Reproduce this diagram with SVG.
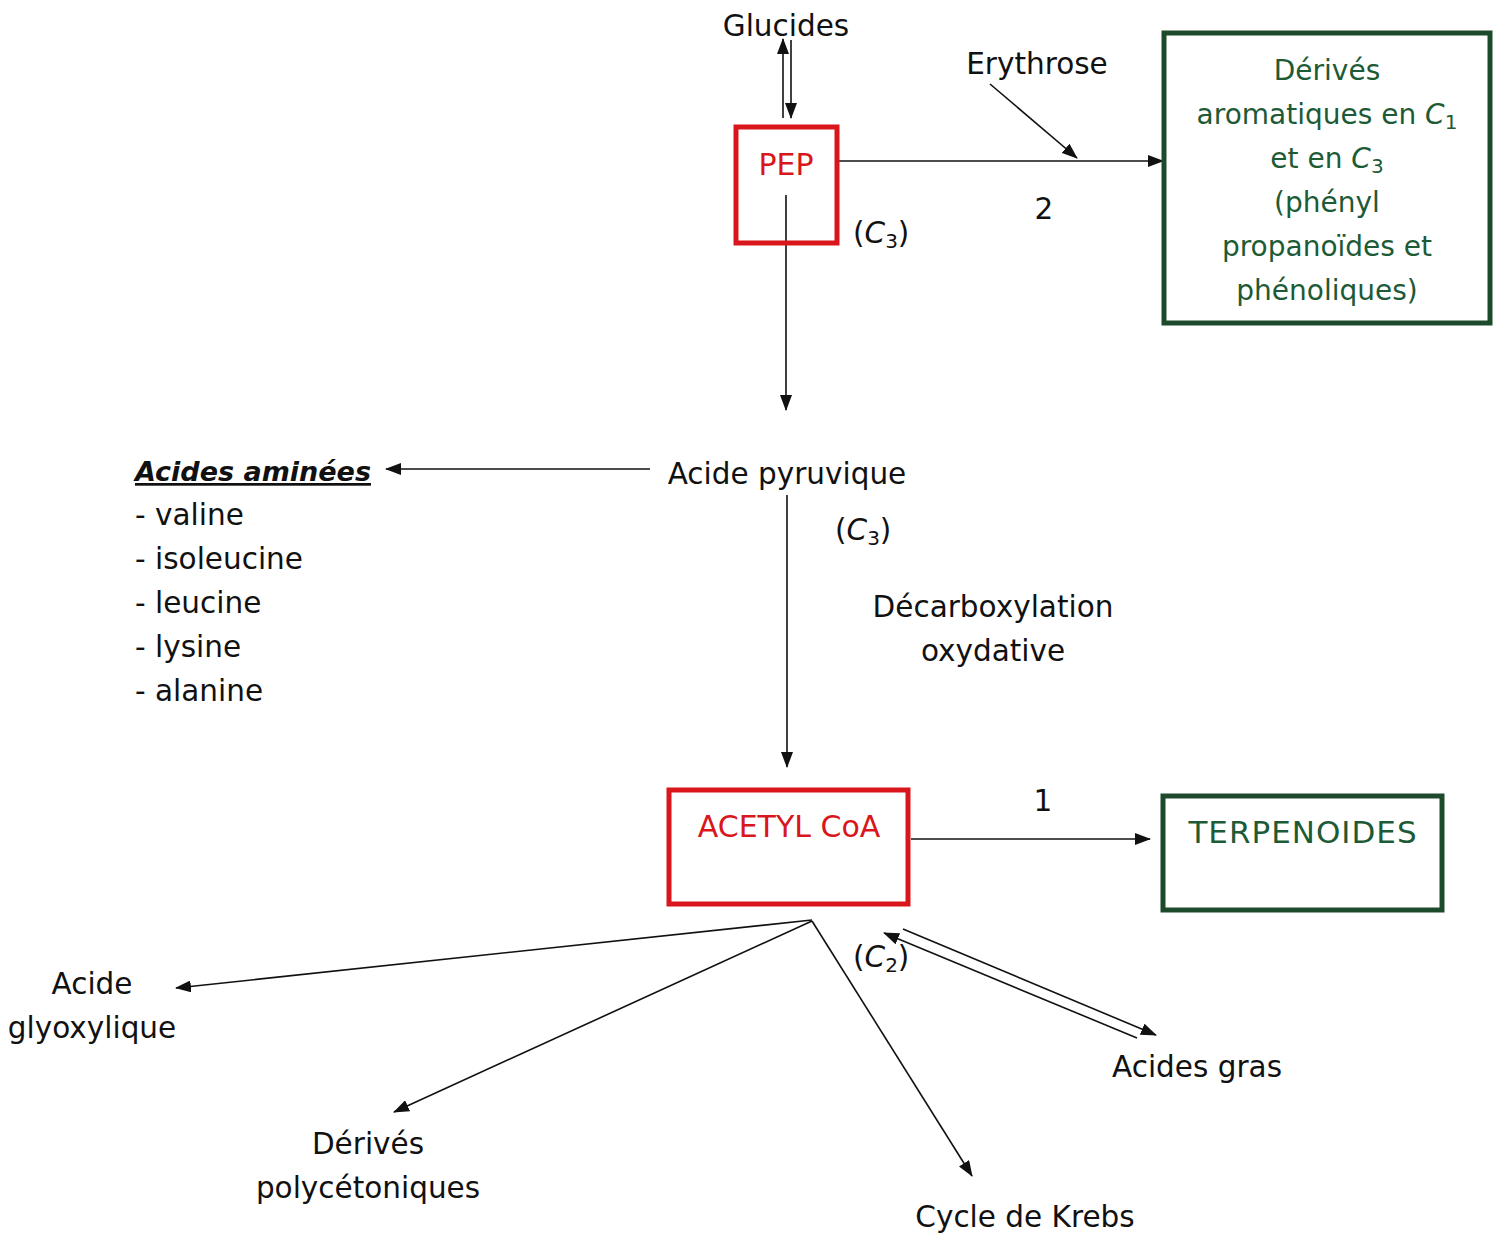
<svg xmlns="http://www.w3.org/2000/svg" width="1499" height="1235" viewBox="0 0 1499 1235">
<style>
text{font-family:"DejaVu Sans","Noto Sans",sans-serif;font-size:29.5px;fill:#111}
.c{text-anchor:middle}
.red{fill:#d9161c;font-size:30px}
.grn{fill:#1d5a36;font-size:28px}
.rbox{fill:none;stroke:#d9161c;stroke-width:5}
.gbox{fill:none;stroke:#1e4a2c;stroke-width:5}
.ln{stroke:#111;stroke-width:1.6;fill:none}
.sub{font-size:20px}
.it{font-style:italic}
.hd{font-size:27px;font-weight:bold;font-style:italic;text-decoration:underline}
</style>
<defs>
<marker id="ah" markerUnits="userSpaceOnUse" markerWidth="16" markerHeight="12" refX="15" refY="6" orient="auto">
<path d="M0,0 L16,6 L0,12 Z" fill="#111"/>
</marker>
</defs>
<rect width="1499" height="1235" fill="#fff"/>

<g id="connectors">
<line class="ln" x1="783" y1="118" x2="783" y2="39" marker-end="url(#ah)"/>
<line class="ln" x1="791" y1="40" x2="791" y2="118" marker-end="url(#ah)"/>
<line class="ln" x1="839" y1="161" x2="1163" y2="161" marker-end="url(#ah)"/>
<line class="ln" x1="990" y1="84" x2="1077" y2="158" marker-end="url(#ah)"/>
<line class="ln" x1="786" y1="195" x2="786" y2="410" marker-end="url(#ah)"/>
<line class="ln" x1="650" y1="469" x2="386" y2="469" marker-end="url(#ah)"/>
<line class="ln" x1="787" y1="495" x2="787" y2="767" marker-end="url(#ah)"/>
<line class="ln" x1="911" y1="839" x2="1150" y2="839" marker-end="url(#ah)"/>
<line class="ln" x1="812" y1="920" x2="176" y2="988" marker-end="url(#ah)"/>
<line class="ln" x1="812" y1="921" x2="394" y2="1112" marker-end="url(#ah)"/>
<line class="ln" x1="812" y1="921" x2="972" y2="1176" marker-end="url(#ah)"/>
<line class="ln" x1="903" y1="929" x2="1156" y2="1035" marker-end="url(#ah)"/>
<line class="ln" x1="1137" y1="1038" x2="884" y2="933" marker-end="url(#ah)"/>
</g>

<g id="glucides"><text class="c" x="786" y="36">Glucides</text></g>
<g id="erythrose"><text class="c" x="1037" y="74">Erythrose</text></g>
<g id="pep">
<rect class="rbox" x="736" y="127" width="101" height="116"/>
<text class="c red" x="786" y="175">PEP</text>
</g>
<g id="label-2"><text class="c" x="1044" y="219">2</text></g>
<g id="label-c3-a"><text x="853" y="243">(<tspan class="it">C</tspan><tspan class="sub" dy="5">3</tspan><tspan dy="-5">)</tspan></text></g>
<g id="derives-aromatiques">
<rect class="gbox" x="1164" y="33" width="326" height="290"/>
<text class="c grn" x="1327" y="80">Dérivés</text>
<text class="c grn" x="1327" y="124">aromatiques en <tspan class="it">C</tspan><tspan class="sub" dy="5">1</tspan></text>
<text class="c grn" x="1327" y="168">et en <tspan class="it">C</tspan><tspan class="sub" dy="5">3</tspan></text>
<text class="c grn" x="1327" y="212">(phényl</text>
<text class="c grn" x="1327" y="256">propanoïdes et</text>
<text class="c grn" x="1327" y="300">phénoliques)</text>
</g>
<g id="acide-pyruvique"><text class="c" x="787" y="484">Acide pyruvique</text></g>
<g id="acides-aminees">
<text class="hd" x="135" y="481">Acides aminées</text>
<text x="135" y="525">- valine</text>
<text x="135" y="569">- isoleucine</text>
<text x="135" y="613">- leucine</text>
<text x="135" y="657">- lysine</text>
<text x="135" y="701">- alanine</text>
</g>
<g id="label-c3-b"><text x="835" y="540">(<tspan class="it">C</tspan><tspan class="sub" dy="5">3</tspan><tspan dy="-5">)</tspan></text></g>
<g id="decarboxylation">
<text class="c" x="993" y="617">Décarboxylation</text>
<text class="c" x="993" y="661">oxydative</text>
</g>
<g id="acetyl-coa">
<rect class="rbox" x="669" y="790" width="239" height="114"/>
<text class="c red" x="789" y="837">ACETYL CoA</text>
</g>
<g id="label-1"><text class="c" x="1043" y="811">1</text></g>
<g id="terpenoides">
<rect class="gbox" x="1163" y="796" width="279" height="114"/>
<text class="c grn" x="1303" y="843" style="font-size:31px;letter-spacing:1px">TERPENOIDES</text>
</g>
<g id="label-c2"><text x="853" y="967">(<tspan class="it">C</tspan><tspan class="sub" dy="5">2</tspan><tspan dy="-5">)</tspan></text></g>
<g id="acide-glyoxylique">
<text class="c" x="92" y="994">Acide</text>
<text class="c" x="92" y="1038">glyoxylique</text>
</g>
<g id="derives-polycetoniques">
<text class="c" x="368" y="1154">Dérivés</text>
<text class="c" x="368" y="1198">polycétoniques</text>
</g>
<g id="cycle-krebs"><text class="c" x="1025" y="1227">Cycle de Krebs</text></g>
<g id="acides-gras"><text class="c" x="1197" y="1077">Acides gras</text></g>
</svg>
